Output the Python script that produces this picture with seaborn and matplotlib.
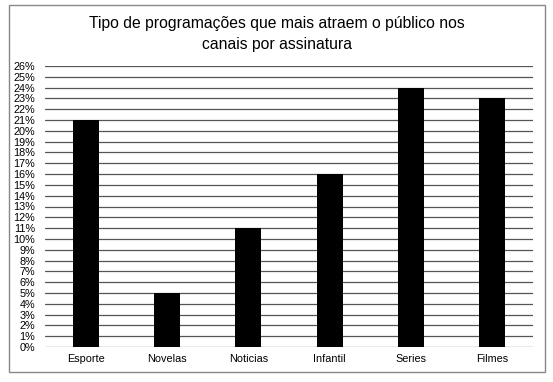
import matplotlib
matplotlib.use("Agg")
import matplotlib.pyplot as plt
import seaborn as sns
import pandas as pd
from matplotlib.patches import Rectangle
from matplotlib.ticker import MultipleLocator, FuncFormatter

categories = ["Esporte", "Novelas", "Noticias", "Infantil", "Series", "Filmes"]
values = [21, 5, 11, 16, 24, 23]
title = "Tipo de programações que mais atraem o público nos\ncanais por assinatura"

sns.set_theme(style="white")
plt.rcParams['font.family'] = ['Liberation Sans', 'DejaVu Sans']

df = pd.DataFrame({"cat": categories, "val": values})

fig = plt.figure(figsize=(5.53, 3.82), dpi=100)
ax = fig.add_axes([45/553, 1 - 347/382, (533-45)/553, (347-66)/382])

sns.barplot(data=df, x="cat", y="val", color="black", width=0.32, ax=ax,
            saturation=1, edgecolor="black", linewidth=0, zorder=3)

ax.set_ylim(0, 26)
ax.yaxis.set_major_locator(MultipleLocator(1))
ax.yaxis.set_major_formatter(FuncFormatter(lambda v, p: f"{int(round(v))}%"))
ax.grid(axis="y", color="#555555", linewidth=0.9, zorder=0)
ax.set_axisbelow(True)
for s in ax.spines.values():
    s.set_visible(False)
ax.tick_params(axis="y", length=0, pad=7, labelsize=7.8, colors="black")
ax.tick_params(axis="x", length=0, pad=5, labelsize=7.8, colors="black")
ax.set_xlabel("")
ax.set_ylabel("")

fig.text(0.5, 1 - 34/382, title, ha="center", va="center", fontsize=11.3, color="black",
         linespacing=1.45)

fig.patches.append(Rectangle((9/553, 1 - 372/382), (545-9)/553, (372-5)/382,
                             transform=fig.transFigure, fill=False,
                             edgecolor="#888888", linewidth=1.0))

fig.savefig("out.png", dpi=100)
